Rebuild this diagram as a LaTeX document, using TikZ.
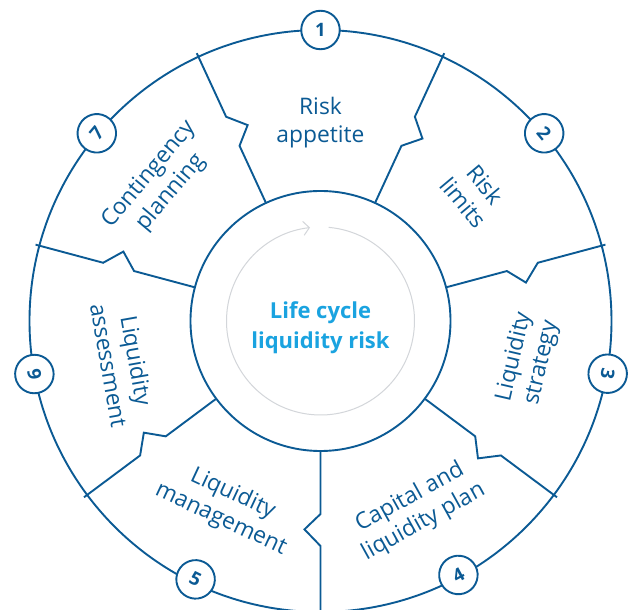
\documentclass[tikz,border=0pt]{standalone}
\usepackage{fontspec}
\setmainfont{Open Sans}
\usetikzlibrary{arrows.meta}
\definecolor{navy}{HTML}{0B5A94}
\definecolor{cyanish}{HTML}{1AA3E0}
\definecolor{arcgray}{HTML}{D3D6DA}
\begin{document}
\begin{tikzpicture}[x=1pt,y=1pt,
  ln/.style={draw=navy, line width=1.9pt, line join=miter},
  badge/.style={circle, draw=navy, line width=1.9pt, fill=white, minimum size=38.5pt, inner sep=0pt, text=navy, font=\bfseries\fontsize{18.5}{18.5}\selectfont},
  seglabel/.style={text=navy, align=center, font=\fontsize{22.8}{28}\selectfont, inner sep=0pt},
]
\useasboundingbox (-320.5,-289) rectangle (309.5,321);
\clip (-320.5,-289) rectangle (309.5,321);
% outer ring
\draw[ln] (0,0) circle (291);
% dividers with notches
\foreach \t in {114.8,65.2,15,-36.7,-90,216.7,165}
  \draw[ln] (\t:130) -- (\t:193) -- ({\t-4.4}:209) -- (\t:225) -- (\t:295);
% inner circle
\draw[ln, fill=white] (0,0) circle (130);
% grey cycle arrow
\draw[arcgray, line width=1pt, -{Straight Barb[length=6pt,width=14pt]}] (85:94) arc[start angle=85, end angle=-263.6, radius=94];
\node[text=cyanish, align=center, font=\bfseries\fontsize{22}{30}\selectfont] (centre) at (0,-7) {Life cycle\\liquidity risk};
% segment labels
\node[seglabel] (s1) at (90:198) {Risk\\appetite};
\node[seglabel, rotate=-50] (s2) at (39.6:200) {Risk\\limits};
\node[seglabel, rotate=77] (s3) at (-10.6:211) {Liquidity\\strategy};
\node[seglabel, rotate=29] (s4) at (-63:212) {Capital and\\liquidity plan};
\node[seglabel, rotate=-25] (s5) at (-116.8:208) {Liquidity\\management};
\node[seglabel, rotate=-80] (s6) at (192:202) {Liquidity\\assessment};
\node[seglabel, rotate=50] (s7) at (139.4:211) {Contingency\\planning};
% badges
\node[badge] (b1) at (90:291) {1};
\node[badge, rotate=-50] (b2) at (40:292) {2};
\node[badge, rotate=-100] (b3) at (-10.4:292) {3};
\node[badge, rotate=28] (b4) at (-61.5:289) {4};
\node[badge, rotate=-26] (b5) at (-115.8:287) {5};
\node[badge, rotate=100] (b6) at (190.5:291) {6};
\node[badge, rotate=50] (b7) at (140:292) {7};
\end{tikzpicture}
\end{document}
